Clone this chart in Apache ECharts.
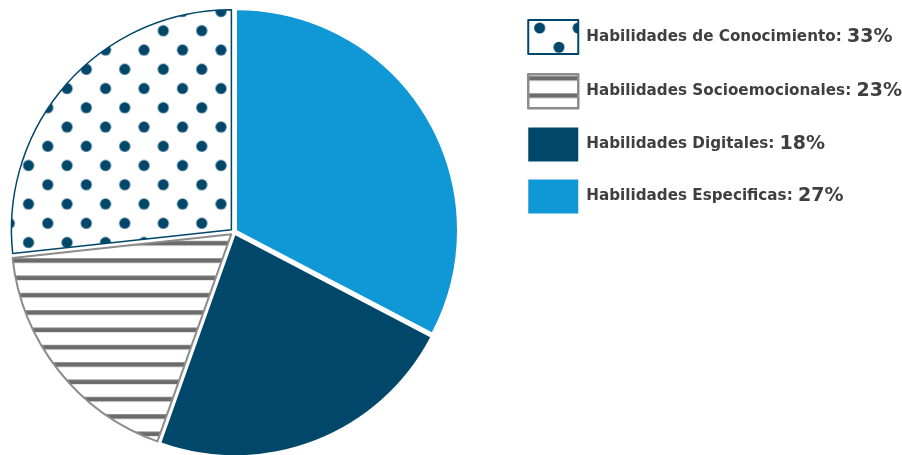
<!DOCTYPE html>
<html>
<head>
<meta charset="utf-8">
<script src="https://cdn.jsdelivr.net/npm/echarts@6/dist/echarts.min.js"></script>
<style>
html,body{margin:0;padding:0;background:#fff;}
#chart{width:902px;height:455px;}
</style>
</head>
<body>
<div id="chart"></div>
<script>
// Slice order (clockwise from 12 o'clock)
const sliceNames = ['Habilidades Especificas', 'Habilidades Digitales', 'Habilidades Socioemocionales', 'Habilidades de Conocimiento'];
const sliceValues = [33, 23, 18, 27];
// Legend order and its printed percentages
const legendNames = ['Habilidades de Conocimiento', 'Habilidades Socioemocionales', 'Habilidades Digitales', 'Habilidades Especificas'];
const legendPercents = ['33%', '23%', '18%', '27%'];

const BLUE = '#0f97d6';
const NAVY = '#00476a';
const GRAY = '#6b6b6b';
const GRAY_BORDER = '#8c8c8c';

function dotPattern(ox, oy) {
  const s = 77, c = document.createElement('canvas');
  c.width = s; c.height = s;
  const ctx = c.getContext('2d');
  ctx.fillStyle = '#ffffff'; ctx.fillRect(0, 0, s, s);
  ctx.fillStyle = NAVY;
  const step = 38.5, bases = [[ox, oy], [ox + 19.25, oy + 19.25]];
  for (const [bx, by] of bases) {
    for (let i = -2; i <= 2; i++) for (let j = -2; j <= 2; j++) {
      ctx.beginPath();
      ctx.arc(bx + i * step, by + j * step, 5.5, 0, Math.PI * 2);
      ctx.fill();
    }
  }
  return c;
}
function stripePattern(oy) {
  const w = 8, h = 52, c = document.createElement('canvas');
  c.width = w; c.height = h;
  const ctx = c.getContext('2d');
  ctx.fillStyle = '#ffffff'; ctx.fillRect(0, 0, w, h);
  ctx.fillStyle = GRAY;
  const step = 52 / 3;
  for (let k = -1; k <= 3; k++) {
    const cy = oy + k * step;
    ctx.fillRect(0, cy - 2.25, w, 4.5);
  }
  return c;
}

const styles = {
  'Habilidades Especificas': { color: BLUE },
  'Habilidades Digitales': { color: NAVY },
  'Habilidades Socioemocionales': { color: { image: stripePattern(15.7), repeat: 'repeat' }, borderColor: GRAY_BORDER, borderWidth: 2 },
  'Habilidades de Conocimiento': { color: { image: dotPattern(11.85, 33.05), repeat: 'repeat' }, borderColor: NAVY, borderWidth: 1.5 }
};
const legendStyles = {
  'Habilidades Especificas': { color: BLUE },
  'Habilidades Digitales': { color: NAVY },
  'Habilidades Socioemocionales': { color: { image: stripePattern(4), repeat: 'repeat' }, borderColor: GRAY_BORDER, borderWidth: 2.5 },
  'Habilidades de Conocimiento': { color: { image: dotPattern(11.4, 8), repeat: 'repeat' }, borderColor: NAVY, borderWidth: 2 }
};

const data = sliceNames.map((n, i) => ({
  name: n, value: sliceValues[i], selected: true,
  itemStyle: styles[n],
  select: { itemStyle: styles[n] }
}));

const chart = echarts.init(document.getElementById('chart'), null, { renderer: 'canvas' });
chart.setOption({
  animation: false,
  backgroundColor: '#ffffff',
  legend: {
    orient: 'vertical',
    left: 527, top: 19,
    padding: 0,
    itemWidth: 50, itemHeight: 34, itemGap: 18,
    icon: 'rect',
    selectedMode: false,
    data: legendNames.map(n => ({ name: n, itemStyle: legendStyles[n] })),
    formatter: function (name) {
      const i = legendNames.indexOf(name);
      return '{a|' + name + ': }{b|' + legendPercents[i] + '}';
    },
    textStyle: {
      padding: [0, 0, 0, 3],
      rich: {
        a: { fontFamily: 'DejaVu Sans', fontWeight: 'bold', fontSize: 15.2, color: '#3f3f3f', lineHeight: 24 },
        b: { fontFamily: 'DejaVu Sans', fontWeight: 'bold', fontSize: 19, color: '#3f3f3f', lineHeight: 24 }
      }
    }
  },
  series: [{
    type: 'pie',
    center: [234, 232],
    radius: 220,
    startAngle: 90,
    clockwise: true,
    selectedMode: 'multiple',
    selectedOffset: 3.5,
    label: { show: false },
    labelLine: { show: false },
    emphasis: { disabled: true },
    data: data
  }]
});
</script>
</body>
</html>
